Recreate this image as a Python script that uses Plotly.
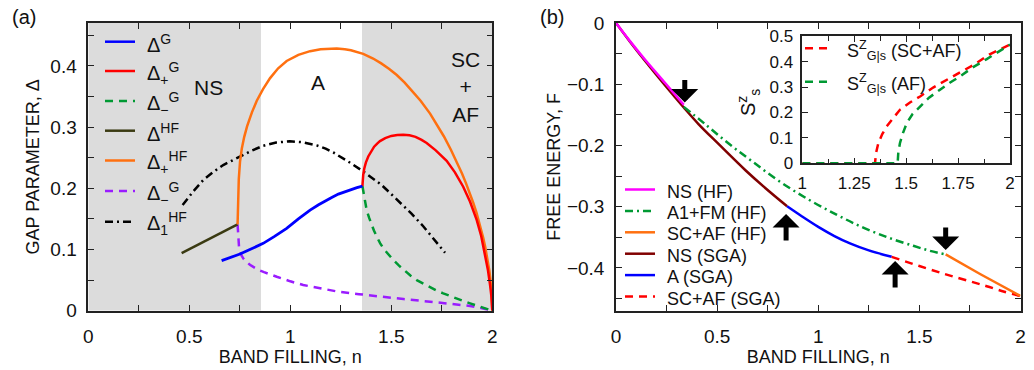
import plotly.graph_objects as go

W, H = 1034, 370

# ---------------- Panel (a) data ----------------
n_hf = [0.462, 0.739]
d_hf = [0.094, 0.141]

n_plus_hf = [0.739, 0.740, 0.742, 0.745, 0.751, 0.760, 0.772, 0.786, 0.810, 0.834, 0.865, 0.90, 0.94, 0.982,
             1.04, 1.098, 1.15, 1.196, 1.23, 1.27, 1.30, 1.361, 1.41, 1.45, 1.49, 1.527, 1.565, 1.60, 1.645,
             1.692, 1.73, 1.76, 1.795, 1.824, 1.85, 1.87, 1.89, 1.906, 1.922, 1.935, 1.946, 1.955, 1.965,
             1.972, 1.979, 1.985, 1.990, 1.994, 1.997, 2.0]
d_plus_hf = [0.141, 0.165, 0.19, 0.215, 0.243, 0.265, 0.284, 0.301, 0.324, 0.343, 0.362, 0.380, 0.396, 0.408,
             0.418, 0.424, 0.427, 0.428, 0.4282, 0.427, 0.4255, 0.4195, 0.412, 0.404, 0.395, 0.385, 0.373,
             0.360, 0.343, 0.322, 0.302, 0.285, 0.263, 0.243, 0.224, 0.208, 0.191, 0.176, 0.160, 0.145,
             0.131, 0.119, 0.104, 0.092, 0.079, 0.066, 0.053, 0.040, 0.027, 0.0]

n_plus_g = [1.357, 1.358, 1.361, 1.366, 1.374, 1.386, 1.40, 1.415, 1.43, 1.444, 1.47, 1.50, 1.53, 1.559, 1.59,
            1.62, 1.65, 1.675, 1.72, 1.774, 1.815, 1.856, 1.89, 1.923, 1.945, 1.964, 1.978, 1.989, 1.995, 2.0]
d_plus_g = [0.2036, 0.212, 0.222, 0.232, 0.242, 0.252, 0.261, 0.268, 0.273, 0.277, 0.282, 0.2855, 0.287, 0.2875,
            0.2865, 0.284, 0.279, 0.274, 0.262, 0.245, 0.226, 0.2025, 0.178, 0.148, 0.122, 0.092, 0.067,
            0.042, 0.025, 0.0]

n_minus_g = [1.357, 1.362, 1.37, 1.378, 1.39, 1.40, 1.414, 1.428, 1.445, 1.465, 1.487, 1.51, 1.537, 1.566, 1.596,
             1.626, 1.658, 1.69, 1.723, 1.757, 1.79, 1.82, 1.855, 1.89, 1.92, 1.95, 1.975, 2.0]
d_minus_g = [0.2036, 0.193, 0.178, 0.1644, 0.152, 0.142, 0.131, 0.121, 0.110, 0.100, 0.091, 0.0828, 0.074, 0.065,
             0.057, 0.050, 0.044, 0.038, 0.033, 0.0284, 0.024, 0.020, 0.016, 0.012, 0.009, 0.006, 0.003, 0.0]

n_minus_g2 = [0.739, 0.740, 0.741, 0.743, 0.746, 0.750, 0.759, 0.770, 0.785, 0.80, 0.817, 0.84, 0.87, 0.90, 0.933,
              0.965, 1.0, 1.064, 1.15, 1.238, 1.34, 1.444, 1.56, 1.692, 1.80, 1.89, 1.95, 2.0]
d_minus_g2 = [0.141, 0.132, 0.124, 0.114, 0.105, 0.098, 0.090, 0.084, 0.079, 0.075, 0.0715, 0.067, 0.063, 0.059,
              0.0555, 0.052, 0.048, 0.042, 0.036, 0.031, 0.027, 0.0229, 0.019, 0.0147, 0.011, 0.0077, 0.004, 0.0]

n_g = [0.660, 0.70, 0.751, 0.80, 0.866, 0.92, 0.982, 1.04, 1.098, 1.14, 1.17, 1.205, 1.238, 1.27, 1.30, 1.33, 1.357]
d_g = [0.0817, 0.0862, 0.0926, 0.100, 0.110, 0.121, 0.1345, 0.150, 0.1644, 0.173, 0.179, 0.185, 0.1905, 0.1945,
       0.198, 0.201, 0.2036]

n_1hf = [0.467, 0.52, 0.569, 0.62, 0.668, 0.71, 0.751, 0.81, 0.866, 0.93, 0.998, 1.06, 1.131, 1.175, 1.213, 1.26,
         1.30, 1.361, 1.40, 1.45, 1.49, 1.527, 1.565, 1.60, 1.658, 1.71, 1.766]
d_1hf = [0.1726, 0.195, 0.2134, 0.227, 0.238, 0.245, 0.2514, 0.2615, 0.2695, 0.2748, 0.2768, 0.2752, 0.2700,
         0.2648, 0.2585, 0.2495, 0.2410, 0.2275, 0.2185, 0.2060, 0.1935, 0.1815, 0.1700, 0.1585, 0.1380, 0.1170,
         0.0947]

shade_ns = [0.0, 0.855]
shade_scaf = [1.355, 2.0]

# ---------------- Panel (b) data ----------------
n_ns_hf = [0, 0.07, 0.145, 0.244, 0.335]
f_ns_hf = [0, -0.030, -0.0605, -0.0985, -0.1335]

n_a1fm = [0.335, 0.442, 0.557, 0.673, 0.805, 0.95, 1.09, 1.22, 1.35, 1.47, 1.55, 1.63]
f_a1fm = [-0.137, -0.1655, -0.197, -0.226, -0.258, -0.288, -0.313, -0.334, -0.351, -0.364, -0.372, -0.378]

n_scaf_hf = [1.63, 1.8, 2.0]
f_scaf_hf = [-0.378, -0.410, -0.446]

n_ns_sga = [0, 0.07, 0.145, 0.244, 0.335, 0.409, 0.508, 0.64, 0.738, 0.846]
f_ns_sga = [0, -0.031, -0.0625, -0.1025, -0.138, -0.1655, -0.198, -0.2405, -0.2695, -0.2994]

n_a_sga = [0.846, 0.92, 1.0, 1.08, 1.16, 1.25, 1.363]
f_a_sga = [-0.2994, -0.316, -0.333, -0.348, -0.3605, -0.3715, -0.382]

n_scaf_sga = [1.363, 1.50, 1.635, 1.75, 1.833, 1.92, 2.0]
f_scaf_sga = [-0.382, -0.397, -0.411, -0.422, -0.430, -0.439, -0.446]

# arrows: (n, F at tip, direction)
arrow_n = [0.340, 0.841, 1.380, 1.630]
arrow_f = [-0.130, -0.312, -0.389, -0.371]
arrow_dir = ["down", "up", "up", "down"]

# inset
n_sz_scaf = [1.0, 1.35, 1.355, 1.366, 1.385, 1.406, 1.44, 1.47, 1.52, 1.567, 1.63, 1.695, 1.76, 1.823, 1.9, 2.0]
sz_scaf = [0, 0, 0.04, 0.079, 0.115, 0.1446, 0.18, 0.2105, 0.24, 0.263, 0.298, 0.329, 0.358, 0.386, 0.428, 0.467]
n_sz_af = [1.0, 1.459, 1.462, 1.47, 1.485, 1.503, 1.53, 1.567, 1.61, 1.663, 1.71, 1.76, 1.82, 1.888, 1.95, 2.0]
sz_af = [0, 0, 0.04, 0.079, 0.12, 0.158, 0.193, 0.2235, 0.258, 0.2895, 0.317, 0.342, 0.377, 0.410, 0.44, 0.467]

# ---------------- styles ----------------
FONT = "Liberation Sans, Arial, sans-serif"
C_BLUE = "#0000ff"
C_RED = "#ff0000"
C_GREEN = "#009933"
C_OLIVE = "#3a3a12"
C_ORANGE = "#ff7010"
C_PURPLE = "#9a1cff"
C_BLACK = "#000000"
C_MAG = "#ff00ff"
C_BROWN = "#800000"
DASH = "8px,6px"
DASHDOT = "8px,4px,2px,4px"
LW = 2.5

fig = go.Figure()

def add(x, y, color, dash="solid", xa="x", ya="y", width=LW, shape="linear"):
    fig.add_trace(go.Scatter(x=x, y=y, mode="lines", xaxis=xa, yaxis=ya, showlegend=False,
                             line=dict(color=color, width=width, dash=dash, shape=shape),
                             hoverinfo="skip"))

# panel (a)
add(n_minus_g2, d_minus_g2, C_PURPLE, DASH)
add(n_minus_g, d_minus_g, C_GREEN, DASH)
add(n_1hf, d_1hf, C_BLACK, DASHDOT)
add(n_hf, d_hf, C_OLIVE)
add(n_plus_hf, d_plus_hf, C_ORANGE)
add(n_plus_g, d_plus_g, C_RED)
add(n_g, d_g, C_BLUE, width=2.8)

# panel (b)
add(n_ns_sga, f_ns_sga, C_BROWN, xa="x2", ya="y2", shape="spline")
add(n_ns_hf, f_ns_hf, C_MAG, xa="x2", ya="y2", shape="spline")
add(n_a1fm, f_a1fm, C_GREEN, DASHDOT, xa="x2", ya="y2", shape="spline")
add(n_a_sga, f_a_sga, C_BLUE, xa="x2", ya="y2", shape="spline")
add(n_scaf_sga, f_scaf_sga, C_RED, DASH, xa="x2", ya="y2", shape="spline")
add(n_scaf_hf, f_scaf_hf, C_ORANGE, xa="x2", ya="y2")

# inset
add(n_sz_scaf, sz_scaf, C_RED, DASH, xa="x3", ya="y3")
add(n_sz_af, sz_af, C_GREEN, DASH, xa="x3", ya="y3")

AX = dict(showline=True, linecolor="#222", linewidth=1.5, mirror="ticks", ticks="inside",
          ticklen=6, tickwidth=1.2, tickcolor="#222", showgrid=False, zeroline=False,
          automargin=False, tickfont=dict(family=FONT, size=19, color="#111"))

def px2x(px):
    return px / W

def py2y(py):
    return 1 - py / H

dom_y = [py2y(310.7), py2y(23.0)]
fig.update_layout(
    width=W, height=H, margin=dict(l=0, r=0, t=0, b=0, pad=0), autosize=False,
    paper_bgcolor="white", plot_bgcolor="white",
    font=dict(family=FONT, size=18, color="#111"),
    xaxis=dict(AX, domain=[px2x(88.3), px2x(492.3)], range=[0, 2], anchor="y", dtick=0.5,
               minor=dict(dtick=0.25, ticks="inside", ticklen=6, tickcolor="#222"),
               ticklabelstandoff=8,
               title=dict(text="BAND FILLING, n", font=dict(size=18), standoff=0)),
    yaxis=dict(AX, domain=dom_y, range=[0, 0.47], anchor="x", dtick=0.1,
               minor=dict(dtick=0.05, ticks="inside", ticklen=6, tickcolor="#222"),
               ticklabelstandoff=6,
               title=dict(text="GAP PARAMETER, Δ", font=dict(size=18), standoff=6)),
    xaxis2=dict(AX, domain=[px2x(616), px2x(1020.5)], range=[0, 2], anchor="y2", dtick=0.5,
                minor=dict(dtick=0.25, ticks="inside", ticklen=6, tickcolor="#222"),
                ticklabelstandoff=8,
                title=dict(text="BAND FILLING, n", font=dict(size=18), standoff=0)),
    yaxis2=dict(AX, domain=dom_y, range=[-0.47, 0], anchor="x2", dtick=0.1,
                minor=dict(dtick=0.05, ticks="inside", ticklen=6, tickcolor="#222"),
                ticklabelstandoff=6,
                title=dict(text="FREE ENERGY, F", font=dict(size=18), standoff=2)),
    xaxis3=dict(AX, domain=[px2x(802.3), px2x(1010)], range=[1, 2], anchor="y3",
                tickvals=[1, 1.25, 1.5, 1.75, 2], ticktext=["1", "1.25", "1.5", "1.75", "2"],
                minor=dict(dtick=0.125, ticks="inside", ticklen=5, tickcolor="#222"),
                ticklabelstandoff=4, tickfont=dict(family=FONT, size=17, color="#111")),
    yaxis3=dict(AX, domain=[py2y(163.3), py2y(36.2)], range=[0, 0.5], anchor="x3", dtick=0.1,
                ticklabelstandoff=4, tickfont=dict(family=FONT, size=17, color="#111")),
)

# shaded regions in panel (a)
for x0, x1 in (shade_ns, shade_scaf):
    fig.add_shape(type="rect", xref="x", yref="y", x0=x0, x1=x1, y0=0, y1=0.47,
                  fillcolor="#dcdcdc", line=dict(width=0), layer="below")

C = dict(xanchor="center", yanchor="middle", showarrow=False)
ann = []
ann.append(dict(C, x=0.595, y=0.364, xref="x", yref="y", text="NS", font=dict(size=21, color="#111")))
ann.append(dict(C, x=1.137, y=0.373, xref="x", yref="y", text="A", font=dict(size=21, color="#111")))
ann.append(dict(C, x=1.866, y=0.366, xref="x", yref="y", text="SC<br>+<br>AF", align="center",
                font=dict(size=21, color="#111")))
# panel labels
ann.append(dict(C, x=px2x(24), y=py2y(17), xref="paper", yref="paper", text="(a)",
                font=dict(size=20, color="#111")))
ann.append(dict(C, x=px2x(552), y=py2y(17), xref="paper", yref="paper", text="(b)",
                font=dict(size=20, color="#111")))
# inset y title
ann.append(dict(C, x=px2x(748), y=py2y(103), xref="paper", yref="paper",
                text="S<sup>z</sup><sub>s</sub>", textangle=-90, font=dict(size=20, color="#111")))

# arrows in panel (b)
for xn, yf, d in zip(arrow_n, arrow_f, arrow_dir):
    ann.append(dict(x=xn, y=yf, xref="x2", yref="y2", ax=0, ay=(-24 if d == "down" else 28),
                    axref="pixel", ayref="pixel", text="", showarrow=True, arrowhead=1,
                    arrowsize=0.9, arrowwidth=5, arrowcolor="#000"))

# manual legends
def legend_entry(py, x0, x1, xt, color, dash, label, size):
    fig.add_shape(type="line", xref="paper", yref="paper", x0=px2x(x0), x1=px2x(x1),
                  y0=py2y(py), y1=py2y(py), line=dict(color=color, width=LW, dash=dash))
    ann.append(dict(x=px2x(xt), y=py2y(py + 2), xref="paper", yref="paper", text=label,
                    xanchor="left", yanchor="middle", showarrow=False,
                    font=dict(size=size, color="#111")))

leg_a = [
    (C_BLUE, "solid", "Δ<sup>G</sup>"),
    (C_RED, "solid", "Δ<sub>+</sub><sup>G</sup>"),
    (C_GREEN, DASH, "Δ<sub>−</sub><sup>G</sup>"),
    (C_OLIVE, "solid", "Δ<sup>HF</sup>"),
    (C_ORANGE, "solid", "Δ<sub>+</sub><sup>HF</sup>"),
    (C_PURPLE, DASH, "Δ<sub>−</sub><sup>G</sup>"),
    (C_BLACK, DASHDOT, "Δ<sub>1</sub><sup>HF</sup>"),
]
rows_a = [41.7, 71.0, 101.0, 130.7, 160.5, 191.0, 221.7]
for (c, d, t), py in zip(leg_a, rows_a):
    legend_entry(py, 105, 135, 145, c, d, t, 20)

leg_b = [
    (C_MAG, "solid", "NS (HF)"),
    (C_GREEN, DASHDOT, "A1+FM (HF)"),
    (C_ORANGE, "solid", "SC+AF (HF)"),
    (C_BROWN, "solid", "NS (SGA)"),
    (C_BLUE, "solid", "A (SGA)"),
    (C_RED, DASH, "SC+AF (SGA)"),
]
for i, (c, d, t) in enumerate(leg_b):
    legend_entry(189.5 + 21.4 * i, 625, 655, 665, c, d, t, 18)

leg_c = [
    (C_RED, DASH, "S<sup>Z</sup><sub>G|s</sub> (SC+AF)"),
    (C_GREEN, DASH, "S<sup>Z</sup><sub>G|s</sub> (AF)"),
]
for (c, d, t), py in zip(leg_c, [48.3, 81.7]):
    legend_entry(py, 805, 832, 845, c, d, t, 18)

fig.update_layout(annotations=ann)
fig.write_html("out.html", config={"displayModeBar": False},
               post_script="document.body.style.margin='0';document.body.style.overflow='hidden';")
